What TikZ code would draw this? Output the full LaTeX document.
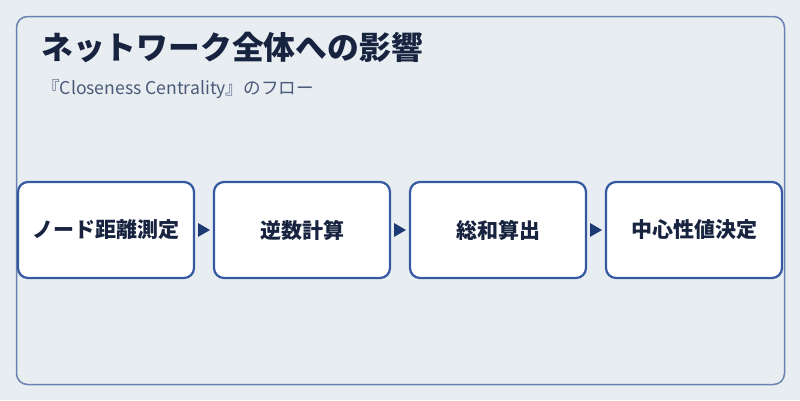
\documentclass[tikz,border=0pt]{standalone}
\usepackage{fontspec}
\setmainfont{Noto Sans CJK JP}
\usetikzlibrary{positioning}
\definecolor{bg}{HTML}{E8EDF2}
\definecolor{frame}{HTML}{6A82B0}
\definecolor{boxline}{HTML}{3558A0}
\definecolor{arrowc}{HTML}{1E3A75}
\definecolor{txt}{HTML}{17233F}
\definecolor{subtxt}{HTML}{4A5A78}
\tikzset{
  stepbox/.style={draw=boxline, line width=2.2pt, fill=white, rounded corners=10pt,
    minimum width=176pt, minimum height=96pt, inner sep=0pt,
    font=\fontsize{21}{24}\selectfont\bfseries, text=txt},
  flowarrow/.style={fill=arrowc, draw=none}
}
\begin{document}
\begin{tikzpicture}[x=1pt,y=-1pt]
\useasboundingbox (0,0) rectangle (800,400);
\fill[bg] (0,0) rectangle (800,400);
\draw[frame, line width=1.5pt, rounded corners=11pt] (16.5,16.5) rectangle (784.5,384.5);
\node[anchor=west, text=txt, font=\fontsize{31.8}{36}\selectfont\bfseries, inner sep=0pt] (title) at (41,47) {ネットワーク全体への影響};
\node[anchor=west, text=subtxt, font=\fontsize{17.6}{20}\selectfont, inner sep=0pt] (sub) at (42,89) {『Closeness Centrality』のフロー};
\node[stepbox] (b1) at (106,230) {ノード距離測定};
\node[stepbox] (b2) at (302,230) {逆数計算};
\node[stepbox] (b3) at (498,230) {総和算出};
\node[stepbox] (b4) at (694,230) {中心性値決定};
\foreach \a/\b in {b1/b2,b2/b3,b3/b4}{
  \path (\a.east) -- (\b.west) coordinate[pos=0.5] (m\a);
  \fill[flowarrow] ([xshift=-6pt,yshift=-7pt]m\a) -- ([xshift=6pt]m\a) -- ([xshift=-6pt,yshift=7pt]m\a) -- cycle;
}
\end{tikzpicture}
\end{document}
